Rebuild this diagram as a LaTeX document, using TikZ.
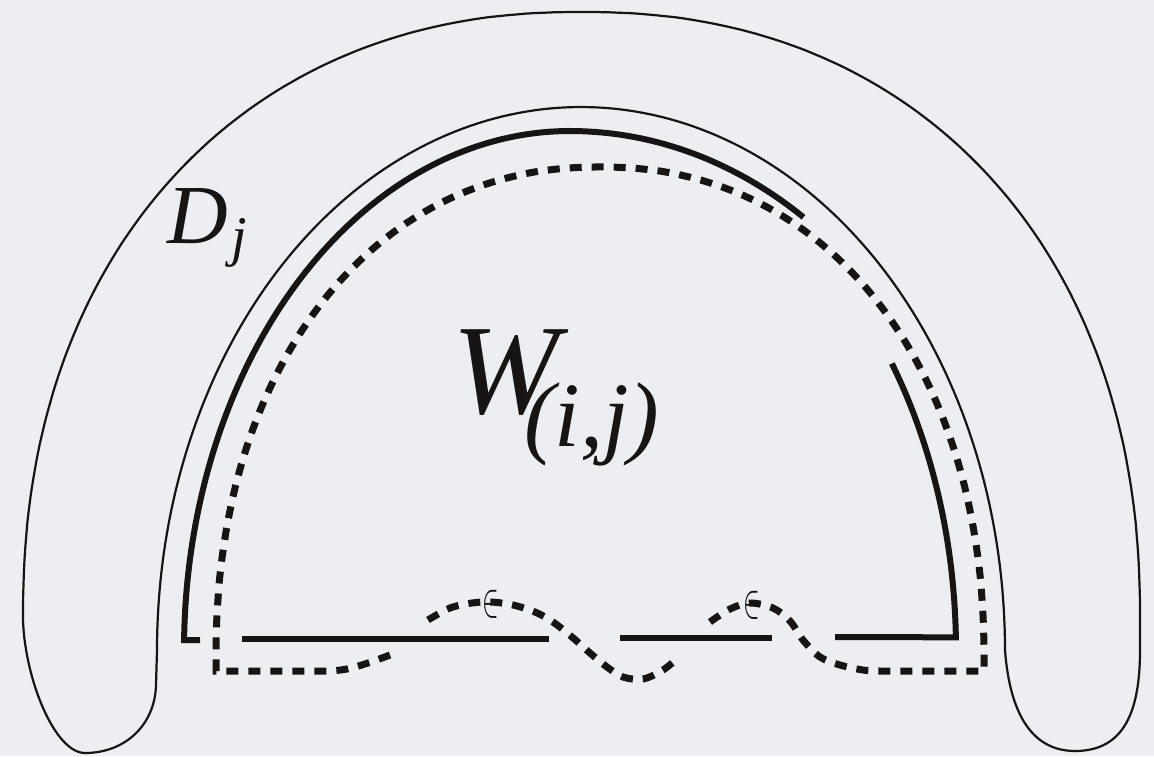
\documentclass[tikz,border=0pt]{standalone}
\usepackage{graphicx}
\usepackage{fontspec}
\setmainfont{Liberation Serif}
\definecolor{bgc}{RGB}{236,238,241}
\definecolor{ink}{RGB}{22,20,20}
\begin{document}
\begin{tikzpicture}[x=1pt,y=-1pt,
  thinline/.style={draw=ink,line width=2.2pt,line join=round},
  thickline/.style={draw=ink,line width=6pt,line join=miter},
  dashline/.style={draw=ink,line width=7pt,dash pattern=on 12pt off 10pt},
  lbl/.style={inner sep=0pt,text=ink},
  epsmark/.style={inner sep=0pt,text=ink}]
\fill[bgc] (0,0) rectangle (1154,756);
\useasboundingbox (0,0) rectangle (1154,756);
% region D_j
\draw[thinline]
  plot[domain=0:180,samples=220,variable=\t]
   ({581.5+558.5*ifthenelse(cos(\t)<0,-1,1)*pow(abs(cos(\t))+0.00001,0.909)},
    {620-608*pow(abs(sin(\t))+0.00001,0.909)})
  .. controls (25,680) and (55,753) .. (85,753)
  .. controls (125,753) and (155,725) .. (156,685)
  -- plot[domain=180:0,samples=160,variable=\t] ({581+424*cos(\t)},{650-543*sin(\t)})
  .. controls (1008,690) and (1020,751) .. (1075,751)
  .. controls (1125,751) and (1140,710) .. (1140,650) -- cycle;
% solid boundary of W
\draw[thickline] (200,640)
  -- plot[domain=178.9:90,samples=90,variable=\t] ({570+386*cos(\t)},{650-519*sin(\t)})
  -- plot[domain=90:56.5,samples=40,variable=\t] ({570+423*cos(\t)},{650-519*sin(\t)});
\draw[thickline]
  plot[domain=33.5:1.4,samples=60,variable=\t] ({570+386*cos(\t)},{650-519*sin(\t)})
  -- (835,637);
\draw[thickline] (242,639) -- (549,639);
\draw[thickline] (620,638) -- (772,638);
% dashed curve
\draw[dashline]
  plot[smooth,tension=0.55] coordinates {(390,655) (368,663) (347,669) (327,671) (300,671)}
  -- (216,671)
  -- plot[domain=180:0,samples=200,variable=\t]
   ({600+384*ifthenelse(cos(\t)<0,-1,1)*pow(abs(cos(\t))+0.00001,0.93)},
    {660-493*pow(abs(sin(\t))+0.00001,0.93)})
  -- (984,671) -- (880,671)
  -- plot[smooth,tension=0.55] coordinates {(880,671) (863,670) (840,665) (820,657) (803,640)
     (790,621) (773,608) (750,603) (730,609) (710,622)};
\draw[dashline] plot[smooth,tension=0.55] coordinates {
 (428,620) (450,608) (472,603) (491,602) (513,605) (535,612) (553,622) (572,637) (590,653)
 (607,667) (623,677) (643,679) (663,670) (679,657)};
% epsilon marks
\node[epsmark] (e1) at (491,604) {\scalebox{1.0}[1.95]{\Huge$\in$}};
\node[epsmark] (e2) at (752,605) {\scalebox{1.0}[1.95]{\Huge$\in$}};
% labels
\node[lbl,anchor=base west,font=\fontsize{84}{84}\selectfont\itshape] (D) at (167,243) {D};
\node[lbl,anchor=base west,font=\fontsize{56}{56}\selectfont\itshape] (Dj) at (231,255) {j};
\node[lbl,anchor=base west,font=\fontsize{128}{128}\selectfont\itshape] (W) at (452,413) {W};
\node[lbl,anchor=base west,font=\fontsize{92}{92}\selectfont\itshape] (Ws) at (524,446) {(i,j)};
\end{tikzpicture}
\end{document}
